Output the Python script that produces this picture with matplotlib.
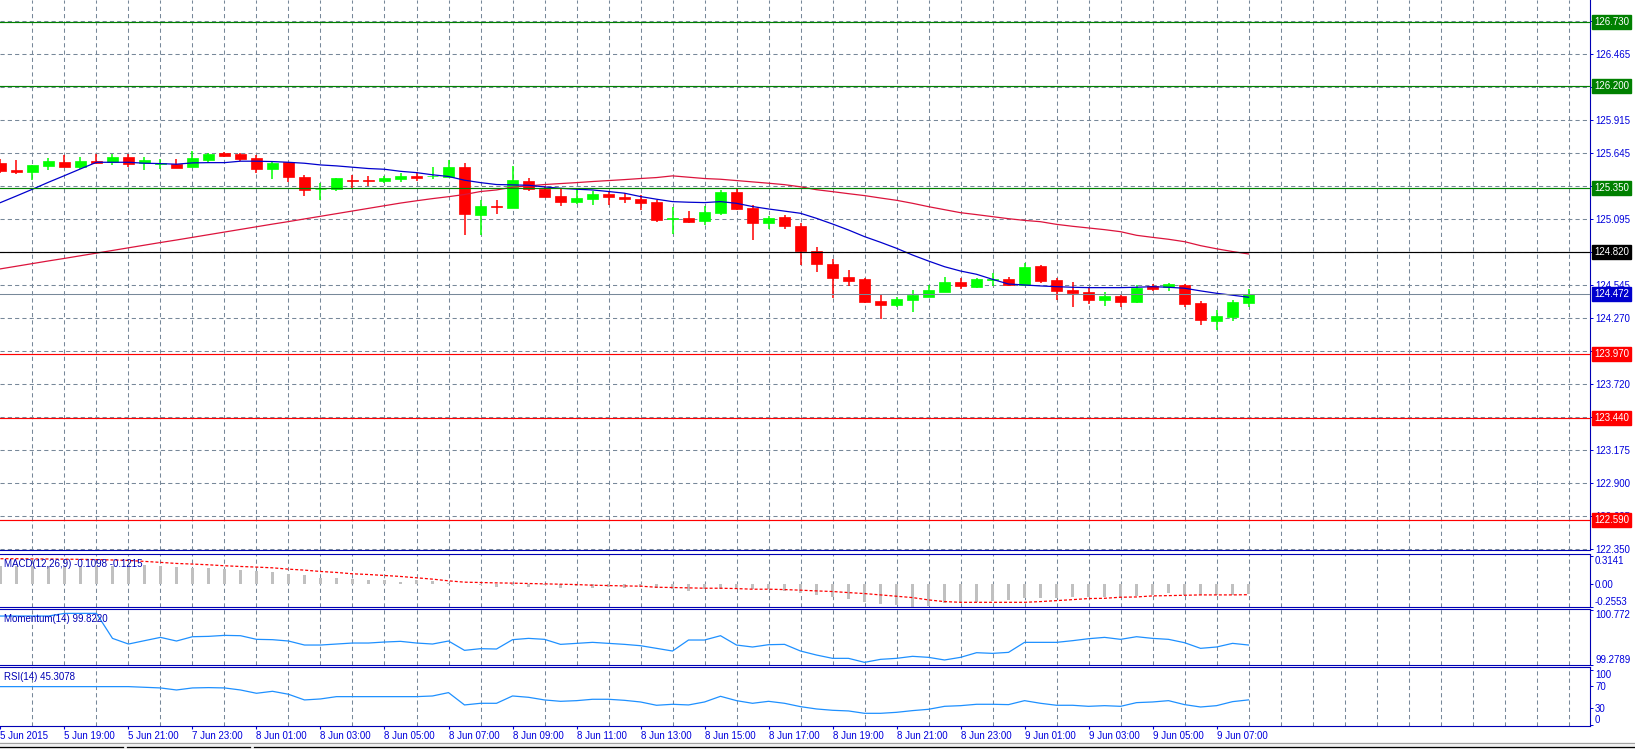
import matplotlib
matplotlib.use('Agg')
import matplotlib.pyplot as plt
from matplotlib.patches import Rectangle
from matplotlib.lines import Line2D
import numpy as np

plt.rcParams['font.family'] = ['Liberation Sans', 'DejaVu Sans']

# M30 bars, 5 Jun 17:00 .. 9 Jun 08:00
opens = [125.563, 125.502, 125.486, 125.539, 125.569, 125.527, 125.577, 125.566, 125.608, 125.563,
         125.553, 125.552, 125.530, 125.588, 125.647, 125.638, 125.602, 125.511, 125.566, 125.444,
         125.342, 125.347, 125.419, 125.417, 125.414, 125.431, 125.455, 125.450, 125.447, 125.530,
         125.129, 125.201, 125.187, 125.411, 125.342, 125.287, 125.237, 125.262, 125.303, 125.281,
         125.262, 125.237, 125.095, 125.101, 125.081, 125.148, 125.320, 125.184, 125.059, 125.109,
         125.037, 124.831, 124.721, 124.615, 124.596, 124.413, 124.382, 124.424, 124.449, 124.491,
         124.571, 124.532, 124.590, 124.596, 124.543, 124.704, 124.587, 124.504, 124.488, 124.421,
         124.455, 124.405, 124.538, 124.529, 124.546, 124.397, 124.250, 124.283, 124.400]
highs = [125.591, 125.586, 125.547, 125.602, 125.627, 125.608, 125.635, 125.635, 125.635, 125.608,
         125.597, 125.591, 125.658, 125.643, 125.652, 125.647, 125.630, 125.566, 125.569, 125.461,
         125.392, 125.436, 125.458, 125.450, 125.450, 125.480, 125.483, 125.525, 125.586, 125.558,
         125.253, 125.253, 125.536, 125.433, 125.370, 125.342, 125.342, 125.331, 125.331, 125.309,
         125.295, 125.253, 125.198, 125.162, 125.203, 125.336, 125.342, 125.212, 125.120, 125.129,
         125.059, 124.859, 124.759, 124.671, 124.601, 124.468, 124.443, 124.504, 124.546, 124.615,
         124.607, 124.607, 124.643, 124.615, 124.732, 124.709, 124.604, 124.571, 124.532, 124.488,
         124.460, 124.546, 124.554, 124.563, 124.554, 124.414, 124.339, 124.422, 124.513]
lows = [125.475, 125.466, 125.419, 125.502, 125.524, 125.508, 125.558, 125.544, 125.525, 125.502,
        125.514, 125.516, 125.525, 125.558, 125.613, 125.577, 125.475, 125.428, 125.406, 125.289,
        125.253, 125.328, 125.350, 125.370, 125.397, 125.406, 125.414, 125.431, 125.442, 124.962,
        124.962, 125.140, 125.187, 125.331, 125.278, 125.203, 125.217, 125.212, 125.212, 125.231,
        125.170, 125.073, 124.968, 125.059, 125.045, 125.129, 125.170, 124.921, 125.009, 125.009,
        124.712, 124.657, 124.441, 124.540, 124.399, 124.261, 124.366, 124.324, 124.447, 124.485,
        124.513, 124.518, 124.538, 124.538, 124.541, 124.565, 124.421, 124.366, 124.388, 124.371,
        124.366, 124.399, 124.493, 124.499, 124.366, 124.217, 124.173, 124.250, 124.367]
closes = [125.497, 125.489, 125.544, 125.577, 125.527, 125.577, 125.563, 125.608, 125.552, 125.586,
          125.556, 125.522, 125.602, 125.638, 125.622, 125.597, 125.514, 125.561, 125.447, 125.339,
          125.347, 125.436, 125.414, 125.411, 125.436, 125.455, 125.439, 125.455, 125.530, 125.140,
          125.203, 125.192, 125.420, 125.342, 125.281, 125.237, 125.270, 125.303, 125.281, 125.262,
          125.231, 125.087, 125.101, 125.073, 125.153, 125.320, 125.181, 125.059, 125.101, 125.037,
          124.832, 124.723, 124.607, 124.582, 124.407, 124.382, 124.432, 124.466, 124.504, 124.571,
          124.540, 124.596, 124.596, 124.546, 124.698, 124.582, 124.496, 124.482, 124.421, 124.455,
          124.405, 124.524, 124.515, 124.554, 124.391, 124.259, 124.289, 124.405, 124.472]

# moving averages on the price chart
ma_fast = [125.231, 125.286, 125.342, 125.400, 125.455, 125.511, 125.566, 125.566, 125.566, 125.558,
           125.555, 125.550, 125.561, 125.563, 125.563, 125.575, 125.575, 125.572, 125.566, 125.558,
           125.544, 125.536, 125.525, 125.514, 125.508, 125.491, 125.480, 125.462, 125.448, 125.417,
           125.397, 125.381, 125.378, 125.375, 125.361, 125.350, 125.342, 125.336, 125.323, 125.309,
           125.281, 125.259, 125.239, 125.234, 125.231, 125.239, 125.225, 125.198, 125.178, 125.160,
           125.142, 125.100, 125.053, 125.003, 124.948, 124.901, 124.851, 124.795, 124.745, 124.698,
           124.662, 124.635, 124.593, 124.554, 124.546, 124.538, 124.532, 124.527, 124.524, 124.524,
           124.524, 124.527, 124.532, 124.527, 124.519, 124.497, 124.477, 124.461, 124.444]
ma_slow = [124.680, 124.702, 124.724, 124.746, 124.767, 124.789, 124.811, 124.833, 124.855, 124.877,
           124.899, 124.920, 124.942, 124.964, 124.986, 125.008, 125.030, 125.052, 125.073, 125.095,
           125.117, 125.139, 125.161, 125.183, 125.205, 125.227, 125.246, 125.264, 125.280, 125.298,
           125.323, 125.336, 125.359, 125.370, 125.381, 125.389, 125.397, 125.406, 125.414, 125.422,
           125.431, 125.439, 125.453, 125.442, 125.431, 125.425, 125.414, 125.403, 125.392, 125.380,
           125.362, 125.338, 125.322, 125.305, 125.289, 125.269, 125.250, 125.225, 125.197, 125.172,
           125.147, 125.131, 125.114, 125.097, 125.083, 125.072, 125.050, 125.034, 125.020, 125.006,
           124.989, 124.959, 124.942, 124.926, 124.906, 124.873, 124.847, 124.824, 124.804]

# indicators
macd_hist = [0.203, 0.203, 0.203, 0.203, 0.203, 0.203, 0.203, 0.203, 0.214, 0.214,
             0.203, 0.188, 0.180, 0.180, 0.169, 0.158, 0.147, 0.135, 0.113, 0.094,
             0.068, 0.068, 0.056, 0.045, 0.045, 0.023, 0.045, 0.034, 0.011, 0.004,
             -0.015, -0.030, -0.015, -0.030, -0.008, -0.041, -0.023, -0.041, -0.030, -0.041,
             -0.030, -0.041, -0.060, -0.075, -0.060, -0.060, -0.053, -0.060, -0.060, -0.075,
             -0.098, -0.120, -0.143, -0.169, -0.199, -0.225, -0.240, -0.255, -0.245, -0.218,
             -0.203, -0.203, -0.192, -0.180, -0.154, -0.154, -0.162, -0.143, -0.143, -0.143,
             -0.143, -0.132, -0.120, -0.105, -0.120, -0.124, -0.124, -0.120, -0.1098]
macd_signal = [0.282, 0.282, 0.280, 0.279, 0.277, 0.275, 0.272, 0.268, 0.263, 0.252,
               0.241, 0.229, 0.222, 0.214, 0.203, 0.195, 0.188, 0.180, 0.165, 0.154,
               0.139, 0.128, 0.113, 0.105, 0.094, 0.083, 0.068, 0.053, 0.034, 0.019,
               0.015, 0.011, 0.008, 0.004, 0.000, -0.004, -0.008, -0.015, -0.019, -0.023,
               -0.026, -0.038, -0.041, -0.045, -0.049, -0.049, -0.053, -0.060, -0.060, -0.064,
               -0.071, -0.079, -0.086, -0.098, -0.109, -0.124, -0.139, -0.154, -0.180, -0.199,
               -0.207, -0.207, -0.207, -0.207, -0.207, -0.199, -0.188, -0.177, -0.165, -0.162,
               -0.150, -0.147, -0.135, -0.132, -0.128, -0.124, -0.124, -0.124, -0.1215]
momentum = [100.602, 100.602, 100.602, 100.602, 100.673, 100.673, 100.673, 100.001, 99.849, 99.939,
            100.028, 99.930, 100.046, 100.055, 100.082, 100.073, 99.975, 99.966, 99.930, 99.822,
            99.822, 99.849, 99.876, 99.876, 99.903, 99.921, 99.876, 99.849, 99.930, 99.679,
            99.724, 99.715, 99.966, 100.001, 99.975, 99.840, 99.867, 99.894, 99.867, 99.840,
            99.804, 99.733, 99.661, 99.957, 99.957, 100.073, 99.822, 99.769, 99.831, 99.840,
            99.661, 99.553, 99.464, 99.464, 99.356, 99.437, 99.464, 99.518, 99.491, 99.420,
            99.491, 99.616, 99.598, 99.625, 99.894, 99.894, 99.894, 99.939, 99.992, 100.028,
            99.975, 100.046, 100.001, 99.975, 99.885, 99.733, 99.769, 99.867, 99.822]
rsi = [69.4, 69.4, 69.4, 69.4, 69.4, 69.4, 69.4, 69.4, 69.4, 68.2,
       67.0, 63.3, 67.0, 67.6, 67.0, 63.3, 57.3, 60.9, 55.5, 45.2,
       47.0, 51.2, 51.2, 51.2, 51.2, 51.2, 51.2, 52.4, 58.5, 36.1,
       39.1, 39.1, 52.4, 50.0, 45.2, 42.7, 43.9, 46.4, 46.4, 44.5,
       41.5, 35.5, 37.3, 36.1, 41.5, 51.8, 43.9, 39.1, 42.7, 39.1,
       33.0, 28.8, 26.4, 25.2, 20.9, 20.9, 22.7, 25.8, 28.2, 33.6,
       34.8, 37.3, 37.3, 36.7, 43.9, 39.1, 35.5, 35.5, 33.6, 34.8,
       33.6, 40.3, 41.5, 43.9, 36.7, 32.4, 34.8, 42.1, 45.3078]

# horizontal levels
level_prices = [126.730, 126.200, 125.350, 124.820, 123.970, 123.440, 122.590]
level_names = ['R3', 'R2', 'R1', 'PP', 'S1', 'S2', 'S3']

price_ticks = [122.350, 122.625, 122.900, 123.175, 123.445, 123.720, 123.995, 124.270, 124.545,
               124.820, 125.095, 125.370, 125.645, 125.915, 126.190, 126.465, 126.740]

time_label_bars = list(range(0, 80, 4))
time_labels = ['5 Jun 2015', '5 Jun 19:00', '5 Jun 21:00', '7 Jun 23:00', '8 Jun 01:00',
               '8 Jun 03:00', '8 Jun 05:00', '8 Jun 07:00', '8 Jun 09:00', '8 Jun 11:00',
               '8 Jun 13:00', '8 Jun 15:00', '8 Jun 17:00', '8 Jun 19:00', '8 Jun 21:00',
               '8 Jun 23:00', '9 Jun 01:00', '9 Jun 03:00', '9 Jun 05:00', '9 Jun 07:00']

# ---- styling
W, H = 1635, 749
AXC = '#0000b4'
TXT = '#0000dc'
GRID = '#778899'
FS = 7.0
level_color = {'R': '#008000', 'P': '#000000', 'S': '#ff0000'}

fig = plt.figure(figsize=(W / 100, H / 100), dpi=100)


def rect(top, bottom):
    return [0, 1 - bottom / H, 1590 / W, (bottom - top) / H]


ax = fig.add_axes(rect(0, 550))
ax_macd = fig.add_axes(rect(554, 607.3))
ax_mom = fig.add_axes(rect(609.3, 665.3))
ax_rsi = fig.add_axes(rect(667.3, 725.7))


def style(a, top=True):
    a.set_xlim(-0.03, 99.34)
    a.spines['left'].set_visible(False)
    a.spines['top'].set_visible(top)
    for s in ['top', 'right', 'bottom']:
        a.spines[s].set_color(AXC)
        a.spines[s].set_linewidth(0.8)
    a.yaxis.tick_right()
    a.tick_params(axis='y', which='major', colors=TXT, labelsize=FS, length=2.2, width=0.7, pad=1.4)
    a.tick_params(axis='y', which='minor', length=0)
    a.set_xticks([])
    a.set_xticks(np.arange(2, 100, 2), minor=True)
    a.tick_params(axis='x', which='minor', length=0)
    a.grid(which='minor', axis='x', color=GRID, lw=0.75, ls=(0, (4, 3)))
    a.set_axisbelow(True)


x = np.arange(len(opens))
o = np.array(opens)
c = np.array(closes)

# ---- main price chart
style(ax, top=False)
ax.set_ylim(122.343, 126.915)
ax.set_yticks(price_ticks)
ax.set_yticklabels([f'{v:.3f}' for v in price_ticks])
ax.grid(which='major', axis='y', color=GRID, lw=0.75, ls=(0, (4, 3)))

cols = np.where(c >= o, '#00ff00', '#ff0000')
ax.vlines(x, lows, highs, colors=cols, lw=1.1, zorder=3)
ax.bar(x, np.abs(c - o), bottom=np.minimum(o, c), width=0.66, color=cols,
       edgecolor=cols, linewidth=0.5, zorder=3.1)

ax.plot(x, ma_slow, color='#dc143c', lw=0.9, zorder=3.5)
ax.plot(x, ma_fast, color='#0000cd', lw=0.9, zorder=3.5)

for p, name in zip(level_prices, level_names):
    col = level_color[name[0]]
    ax.axhline(p, color=col, lw=0.85, zorder=4)
    ax.text(1.0025, p, f'{p:.3f}', transform=ax.get_yaxis_transform(), color='white',
            fontsize=FS, va='center', ha='left', clip_on=False, zorder=6,
            bbox=dict(boxstyle='square,pad=0.22', fc=col, ec=col))

bid = closes[-1]
ax.axhline(bid, color=GRID, lw=0.75, zorder=4)
ax.text(1.0025, bid, f'{bid:.3f}', transform=ax.get_yaxis_transform(), color='white',
        fontsize=FS, va='center', ha='left', clip_on=False, zorder=6,
        bbox=dict(boxstyle='square,pad=0.22', fc='#0000cd', ec='#0000cd'))

# ---- MACD
style(ax_macd)
ax_macd.set_ylim(-0.263, 0.335)
ax_macd.bar(x, macd_hist, width=0.14, color='#c0c0c0', zorder=2)
ax_macd.plot(x, macd_signal, color='#ff0000', lw=0.9, ls=(0, (2.4, 1.6)), zorder=3)
ax_macd.set_yticks([-0.2553, 0.0, 0.3141])
ax_macd.set_yticklabels(['-0.2553', '0.00', '0.3141'])
ax_macd.set_yticks([0.0], minor=True)
ax_macd.grid(which='minor', axis='y', color=GRID, lw=0.75, ls=(0, (4, 3)))
ax_macd.text(0.0025, 0.81, f'MACD(12,26,9) {macd_hist[-1]:.4f} {macd_signal[-1]:.4f}',
             transform=ax_macd.transAxes, color=AXC, fontsize=FS, va='center', ha='left')

# ---- Momentum
style(ax_mom)
ax_mom.set_ylim(99.277, 100.783)
ax_mom.plot(x, momentum, color='#1e90ff', lw=0.9)
ax_mom.set_yticks([99.2789, 100.772])
ax_mom.set_yticklabels(['99.2789', '100.772'])
ax_mom.text(0.0025, 0.832, f'Momentum(14) {momentum[-1]:.4f}',
            transform=ax_mom.transAxes, color=AXC, fontsize=FS, va='center', ha='left')

# ---- RSI
style(ax_rsi)
ax_rsi.set_ylim(-1.6, 104.5)
ax_rsi.plot(x, rsi, color='#1e90ff', lw=0.9)
ax_rsi.set_yticks([0, 30, 70, 100])
ax_rsi.set_yticklabels(['0', '30', '70', '100'])
ax_rsi.set_yticks([30, 70], minor=True)
ax_rsi.grid(which='minor', axis='y', color='#c0c0c0', lw=0.75, ls=(0, (4, 3)))
ax_rsi.text(0.0025, 0.839, f'RSI(14) {rsi[-1]:.4f}',
            transform=ax_rsi.transAxes, color=AXC, fontsize=FS, va='center', ha='left')

ax_rsi.set_xticks(time_label_bars)
ax_rsi.set_xticklabels(time_labels)
ax_rsi.tick_params(axis='x', which='major', colors=TXT, labelsize=FS, length=2.5, width=0.8, pad=1.0)
for t in ax_rsi.xaxis.get_major_ticks():
    t.label1.set_ha('left')

# extreme labels sit inside the panel
for a in (ax_macd, ax_mom, ax_rsi):
    ticks = a.yaxis.get_major_ticks()
    ticks[0].label2.set_va('bottom')
    ticks[-1].label2.set_va('top')

# bottom tab strip
fig.add_artist(Rectangle((0, 0), 1, 7 / H, transform=fig.transFigure, fc='#f0f0f0', ec='none'))
fig.add_artist(Line2D([0, 1], [1 - 742.5 / H] * 2, transform=fig.transFigure, color='#a0a0a0', lw=0.7))
for x0, x1 in [(0, 123), (127, 250), (254, 1635)]:
    fig.add_artist(Line2D([x0 / W, x1 / W], [1 - 746.5 / H] * 2, transform=fig.transFigure,
                          color='black', lw=0.9))

fig.savefig('out.png', dpi=100, facecolor='white')
